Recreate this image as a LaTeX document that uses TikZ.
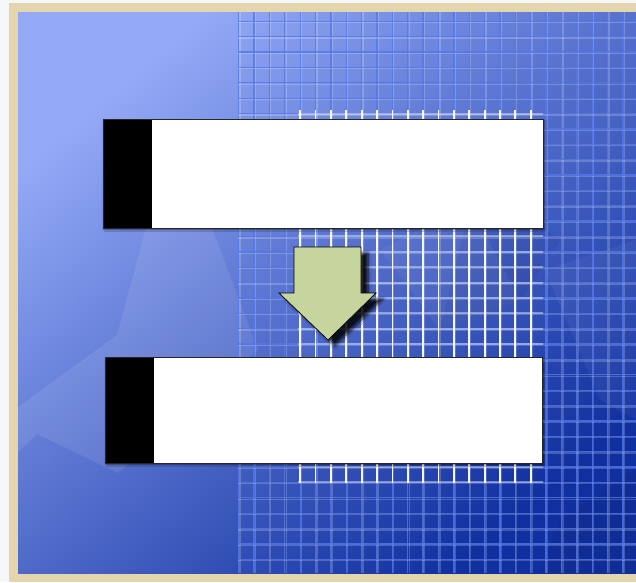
\documentclass[tikz,border=0pt]{standalone}
\usetikzlibrary{shadows.blur}
\definecolor{frameC}{HTML}{E3D5AD}
\definecolor{outerC}{HTML}{F6F7F9}
\definecolor{lightBlue}{HTML}{94AAF7}
\definecolor{midBlue}{HTML}{5E78E0}
\definecolor{darkBlue}{HTML}{10309F}
\definecolor{gridCore}{HTML}{5478E6}
\definecolor{arrowC}{HTML}{C5D59D}
\tikzset{
  gridline/.style={draw=gridCore, draw opacity=0.8, line width=1.3pt},
  gridlight/.style={draw=white, draw opacity=0.2, line width=1.3pt},
  brightV/.style={draw=white, draw opacity=0.95, line width=1.8pt},
  brightH/.style={draw=white, draw opacity=0.40, line width=2pt},
  boxwhite/.style={fill=white, draw=black!85, line width=0.8pt, blur shadow={shadow xshift=1.2pt, shadow yshift=-1.5pt, shadow blur steps=2, shadow opacity=60}},
  boxblack/.style={fill=black},
  bigarrow/.style={fill=arrowC, draw=black, line width=0.7pt, blur shadow={shadow xshift=7pt, shadow yshift=-6pt, shadow blur steps=6, shadow blur radius=3pt, shadow opacity=85}},
  facet/.style={fill=white, fill opacity=#1},
}
\begin{document}
\begin{tikzpicture}[x=1pt,y=-1pt]
\useasboundingbox (0,0) rectangle (636,582);
% outer and frame
\fill[outerC] (0,0) rectangle (636,582);
\fill[frameC] (9,3) rectangle (636,582);
% blue background
\shade[top color=lightBlue, middle color=midBlue, bottom color=darkBlue, shading angle=40] (18,12) rectangle (636,573);
\begin{scope}
\clip (18,12) rectangle (636,573);
% faint facets
\fill[facet=0.09] (146,228) -- (212,228) -- (258,350) -- (118,473) -- (37,434) -- (18,452) -- (18,407) -- (117,335) -- cycle;
\fill[facet=0.05] (380,250) -- (470,205) -- (520,300) -- (440,330) -- cycle;
\fill[black, fill opacity=0.05] (430,150) -- (470,205) -- (440,330) -- (520,300) -- (560,240) -- cycle;
\fill[facet=0.05] (545,270) -- (636,240) -- (636,420) -- (600,400) -- cycle;
\fill[black, fill opacity=0.06] (560,520) -- (636,470) -- (636,573) -- (540,573) -- cycle;
% grid
\foreach \i in {0,...,25} {
  \draw[gridline] ({238.7+15.37*\i},12) -- ({238.7+15.37*\i},573);
  \draw[gridlight] ({240.1+15.37*\i},12) -- ({240.1+15.37*\i},573);
}
\foreach \k in {0,...,35} {
  \draw[gridline] (238,{21.3+15.37*\k}) -- (636,{21.3+15.37*\k});
  \draw[gridlight] (238,{22.7+15.37*\k}) -- (636,{22.7+15.37*\k});
}
\end{scope}
% bright grid region
\begin{scope}
\clip (298,110) rectangle (543,482);
\foreach \i in {4,...,19} {
  \draw[brightV] ({238.7+15.37*\i},100) -- ({238.7+15.37*\i},490);
}
\foreach \k in {5,...,30} {
  \draw[brightH] (290,{21.3+15.37*\k}) -- (550,{21.3+15.37*\k});
}
\end{scope}
% boxes
\node[boxwhite, minimum width=440pt, minimum height=109pt, inner sep=0pt, anchor=north west] (box1) at (103,119) {};
\fill[boxblack] (box1.north west) rectangle ([xshift=49pt]box1.south west);
\draw[black!85, line width=0.8pt] (box1.north west) rectangle (box1.south east);
\node[boxwhite, minimum width=437pt, minimum height=106pt, inner sep=0pt, anchor=north west] (box2) at (105,357) {};
\fill[boxblack] (box2.north west) rectangle ([xshift=49pt]box2.south west);
\draw[black!85, line width=0.8pt] (box2.north west) rectangle (box2.south east);
% arrow
\path[bigarrow] (294,247) -- (361,247) -- (361,293) -- (376,293) -- (328,340) -- (279,293) -- (294,293) -- cycle;
\end{tikzpicture}
\end{document}
